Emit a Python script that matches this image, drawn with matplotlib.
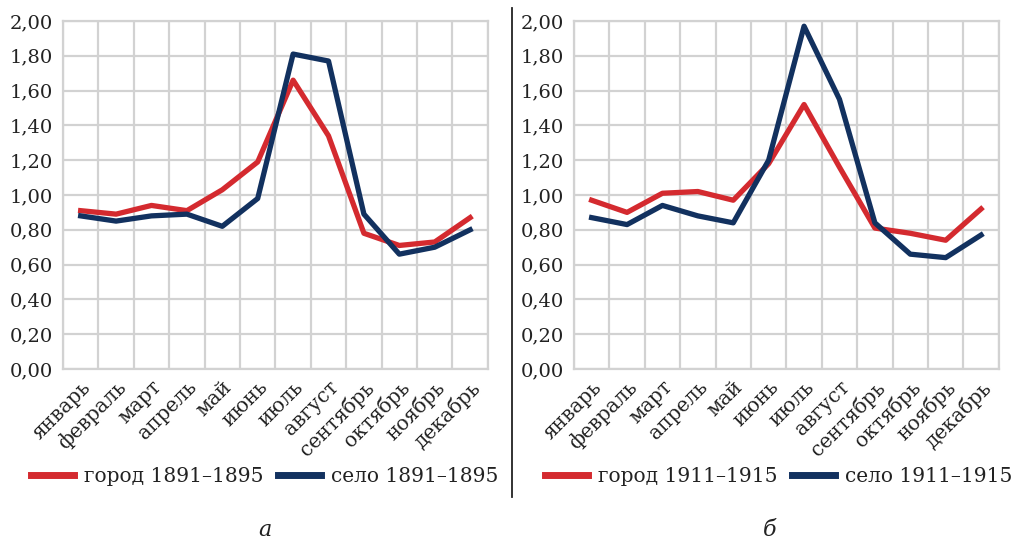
import matplotlib.pyplot as plt
from matplotlib.lines import Line2D

months = ["январь", "февраль", "март", "апрель", "май", "июнь",
          "июль", "август", "сентябрь", "октябрь", "ноябрь", "декабрь"]

# 1891-1895
city_1891 = [0.91, 0.89, 0.94, 0.91, 1.03, 1.19, 1.66, 1.34, 0.78, 0.71, 0.73, 0.87]
village_1891 = [0.88, 0.85, 0.88, 0.89, 0.82, 0.98, 1.81, 1.77, 0.89, 0.66, 0.70, 0.80]

# 1911-1915
city_1911 = [0.97, 0.90, 1.01, 1.02, 0.97, 1.18, 1.52, 1.16, 0.81, 0.78, 0.74, 0.92]
village_1911 = [0.87, 0.83, 0.94, 0.88, 0.84, 1.20, 1.97, 1.55, 0.84, 0.66, 0.64, 0.77]

yticks = [0.0, 0.2, 0.4, 0.6, 0.8, 1.0, 1.2, 1.4, 1.6, 1.8, 2.0]

RED = "#d42a2f"
BLUE = "#12315f"
GRID = "#d2d2d2"
plt.rcParams["font.family"] = ["DejaVu Serif"]

fig = plt.figure(figsize=(10.14, 5.44), dpi=100)

panels = [
    (0.0621, city_1891, village_1891, "город 1891–1895", "село 1891–1895", "а", 265, 0.475),
    (0.566, city_1911, village_1911, "город 1911–1915", "село 1911–1915", "б", 770, 0.482),
]

for left, city, village, lab_c, lab_v, letter, lx, legx in panels:
    ax = fig.add_axes([left, 0.3217, 0.419, 0.6397])
    x = range(len(months))
    ax.plot(x, city, color=RED, lw=3.8, label=lab_c, zorder=3)
    ax.plot(x, village, color=BLUE, lw=3.8, label=lab_v, zorder=4)

    ax.set_xlim(-0.5, 11.5)
    ax.set_ylim(0, 2.0)
    ax.set_yticks(yticks)
    ax.set_yticklabels([f"{v:.2f}".replace(".", ",") for v in yticks], fontsize=14,
                       color="#222222")
    ax.set_xticks(list(x))
    ax.set_xticklabels(months, rotation=45, ha="right", va="top", rotation_mode="anchor",
                       fontsize=14.5, color="#222222")
    ax.set_xticks([i - 0.5 for i in range(13)], minor=True)
    ax.grid(False)
    ax.grid(True, which="minor", axis="x", color=GRID, lw=1.6)
    ax.grid(True, which="major", axis="y", color=GRID, lw=1.6)
    ax.tick_params(which="both", length=0)
    ax.tick_params(axis="y", pad=7)
    ax.tick_params(axis="x", pad=6)
    for s in ax.spines.values():
        s.set_color(GRID)
        s.set_linewidth(1.6)

    ax.legend(loc="center", bbox_to_anchor=(legx, -0.31), ncol=2, frameon=False,
              fontsize=14.5, handlelength=2.1, handletextpad=0.5, columnspacing=0.75,
              borderaxespad=0, borderpad=0, labelcolor="#222222")
    for h in ax.get_legend().get_lines():
        h.set_linewidth(5)

    fig.text(lx / 1014, 1 - 530 / 544, letter, ha="center", va="center",
             fontsize=16, style="italic", color="#222222")

fig.add_artist(Line2D([512 / 1014, 512 / 1014], [1 - 8 / 544, 1 - 497 / 544],
                      color="#222222", lw=1.3))

fig.savefig("out.png", dpi=100)
